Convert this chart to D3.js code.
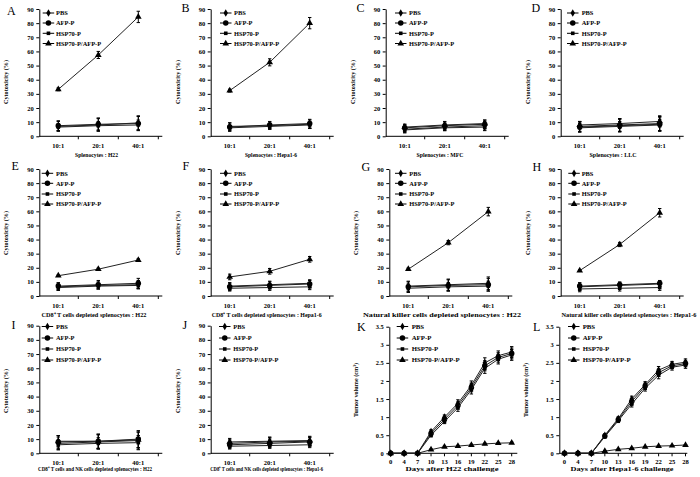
<!DOCTYPE html>
<html><head><meta charset="utf-8">
<script src="https://cdn.jsdelivr.net/npm/d3@7"></script>
<style>
body{margin:0;background:#fff}
svg{display:block}
text{font-family:"Liberation Serif","Times New Roman",serif;fill:#000}
</style>
</head><body>
<svg id="c" width="700" height="477"></svg>
<script>
// ---------------- DATA ----------------
const seriesNames = ["PBS", "AFP-P", "HSP70-P", "HSP70-P/AFP-P"];
const ratioLabels = ["10:1", "20:1", "40:1"];
const cytoTicks = [0, 10, 20, 30, 40, 50, 60, 70, 80, 90];
const dayLabels = ["0", "4", "7", "10", "13", "16", "19", "22", "25", "28"];
const volumeTicks = [0, 0.5, 1, 1.5, 2, 2.5, 3, 3.5];

// cytotoxicity (%) : rows = PBS, AFP-P, HSP70-P, HSP70-P/AFP-P ; cols = 10:1, 20:1, 40:1
const meanA = [[7, 8, 9.5], [7.5, 8.5, 9], [6.5, 7.5, 8], [33.2, 57.5, 84.4]];
const errA  = [[3.5, 4.5, 5], [3.5, 4.5, 5], [2.5, 3, 3.5], [1, 2.5, 4]];
const meanB = [[7, 7.5, 8.5], [6.5, 8, 9], [6, 7, 8], [32.3, 52.3, 80]];
const errB  = [[2.5, 2.5, 3], [3, 2.5, 3], [2, 2, 2.5], [1, 2.5, 4]];
const meanC = [[5, 6.5, 7.5], [6, 7.5, 8.5], [4.5, 6, 6.5], [6.5, 8, 9]];
const errC  = [[2.5, 2.5, 3], [2.5, 2.5, 3], [2, 2, 2.5], [2, 2.5, 2.5]];
const meanD = [[7, 8, 9], [6.5, 7.5, 8.5], [6, 7, 8], [8, 9, 10.5]];
const errD  = [[3.5, 4.5, 5], [3.5, 4.5, 5], [3, 3.5, 4], [2.5, 3.5, 4]];
const meanE = [[6.5, 7.5, 8], [7, 8, 9], [6, 7, 7.5], [14.4, 19, 25.5]];
const errE  = [[2.5, 2.5, 3], [2.5, 3, 3.5], [2, 2, 2], [0.5, 0.7, 0.8]];
const meanF = [[7, 8, 9], [6.5, 7.5, 8.5], [5.5, 6, 6.5], [13.5, 17.5, 26]];
const errF  = [[2.5, 2.5, 2.5], [2.5, 2.5, 2.5], [2, 2, 2], [2, 2, 2]];
const meanG = [[7, 8, 9], [6.5, 7.5, 8], [5.5, 6.5, 7], [19, 37.8, 59.8]];
const errG  = [[3.5, 4, 4.5], [3.5, 4, 4.5], [3, 3, 3.5], [0.8, 1.5, 3]];
const meanH = [[6.5, 7.5, 8.5], [7, 8, 9], [5, 5.5, 6], [18, 36.5, 59]];
const errH  = [[2.5, 2, 2], [2.5, 2, 2], [2, 2, 2], [0.5, 1.5, 3]];
const meanI = [[7, 8, 9], [8, 8.5, 10], [6, 7, 7.5], [8.5, 8.5, 9.5]];
const errI  = [[4.5, 5, 6], [4.5, 5, 6], [3.5, 4, 5], [4, 5, 5.5]];
const meanJ = [[7, 8, 8.5], [6, 7, 8], [5, 5.5, 6], [8, 8.5, 9]];
const errJ  = [[2.5, 3, 3], [2.5, 3, 3], [2, 2, 2], [2.5, 3, 3]];

// tumor volume (cm3) : rows = PBS, AFP-P, HSP70-P, HSP70-P/AFP-P ; cols = days
const meanK = [[0, 0, 0, 0.6, 1.0, 1.38, 1.88, 2.5, 2.7, 2.8],
               [0, 0, 0, 0.55, 0.94, 1.32, 1.82, 2.42, 2.65, 2.76],
               [0, 0, 0, 0.5, 0.88, 1.26, 1.76, 2.35, 2.6, 2.72],
               [0, 0, 0, 0.1, 0.18, 0.2, 0.23, 0.26, 0.28, 0.29]];
const errK  = [[0, 0, 0, 0.05, 0.06, 0.1, 0.12, 0.14, 0.13, 0.15],
               [0, 0, 0, 0.05, 0.06, 0.1, 0.12, 0.14, 0.13, 0.15],
               [0, 0, 0, 0.05, 0.06, 0.1, 0.12, 0.14, 0.13, 0.15],
               [0, 0, 0, 0.02, 0.02, 0.02, 0.02, 0.02, 0.02, 0.02]];
const meanL = [[0, 0, 0, 0.5, 0.96, 1.5, 1.9, 2.3, 2.46, 2.52],
               [0, 0, 0, 0.48, 0.93, 1.43, 1.86, 2.23, 2.42, 2.48],
               [0, 0, 0, 0.46, 0.9, 1.36, 1.8, 2.16, 2.38, 2.44],
               [0, 0, 0, 0.06, 0.11, 0.14, 0.18, 0.2, 0.21, 0.23]];
const errL  = [[0, 0, 0, 0.04, 0.05, 0.08, 0.08, 0.1, 0.08, 0.09],
               [0, 0, 0, 0.04, 0.05, 0.08, 0.08, 0.1, 0.08, 0.09],
               [0, 0, 0, 0.04, 0.05, 0.08, 0.08, 0.1, 0.08, 0.09],
               [0, 0, 0, 0.01, 0.01, 0.01, 0.01, 0.01, 0.01, 0.01]];

const xTitles = {
  A: "Splenocytes : H22", B: "Splenocytes : Hepa1-6", C: "Splenocytes : MFC", D: "Splenocytes : LLC",
  E: "CD8\u207A T cells depleted splenocytes : H22", F: "CD8\u207A T cells depleted splenocytes : Hepa1-6",
  G: "Natural killer cells depleted splenocytes : H22", H: "Natural killer cells depleted splenocytes : Hepa1-6",
  I: "CD8\u207A T cells and NK cells depleted splenocytes : H22", J: "CD8\u207A T cells and NK cells depleted splenocytes : Hepa1-6",
  K: "Days after H22 challenge", L: "Days after Hepa1-6 challenge"
};

// ---------------- LAYOUT ----------------
const rowLeg1 = [13, 23, 33.3, 43.5];
const rowLeg2 = [173.3, 183.3, 194, 204];
const rowLeg3 = [326.5, 338, 349, 360];
const panels = [
  {id:"A", mean:meanA, err:errA, ax:39.3, top:9, bottom:136.3, lx:42.7, tx:56, rows:rowLeg1, tW:43, tX:96.5, lt:[7,15], ytY:82},
  {id:"B", mean:meanB, err:errB, ax:210.7, top:9, bottom:136.3, lx:220, tx:234, rows:rowLeg1, tW:52, tX:271, lt:[181.5,12], ytY:82},
  {id:"C", mean:meanC, err:errC, ax:385.7, top:9, bottom:136.3, lx:395, tx:409, rows:rowLeg1, tW:47, tX:440, lt:[356.5,12], ytY:82},
  {id:"D", mean:meanD, err:errD, ax:560.7, top:9, bottom:136.3, lx:567, tx:581.7, rows:rowLeg1, tW:47, tX:613, lt:[531.5,12], ytY:82},
  {id:"E", mean:meanE, err:errE, ax:39.3, top:169, bottom:296, lx:41.7, tx:56, rows:rowLeg2, tW:105, tX:94, lt:[11.5,170], ytY:233},
  {id:"F", mean:meanF, err:errF, ax:210.7, top:169, bottom:296, lx:220, tx:234, rows:rowLeg2, tW:110, tX:266.7, lt:[182.5,170], ytY:233},
  {id:"G", mean:meanG, err:errG, ax:389.3, top:169, bottom:296, lx:395, tx:409.3, rows:rowLeg2, tW:158, tX:442, lt:[361.5,170.5], ytY:233},
  {id:"H", mean:meanH, err:errH, ax:560.7, top:169, bottom:296, lx:568.3, tx:581.7, rows:rowLeg2, tW:135, tX:629, lt:[532.5,170.5], ytY:233},
  {id:"I", mean:meanI, err:errI, ax:39.3, top:325.7, bottom:453.3, lx:41.7, tx:56, rows:rowLeg3, tW:114, tX:95, lt:[11.5,329], ytY:391},
  {id:"J", mean:meanJ, err:errJ, ax:210.7, top:325.7, bottom:453.3, lx:219, tx:233.3, rows:rowLeg3, tW:113, tX:266.7, lt:[182.5,329], ytY:391},
  {id:"K", mean:meanK, err:errK, ax:389.3, top:326.7, bottom:453.3, lx:396.7, tx:411.7, rows:rowLeg3, tW:93, tX:452, lt:[357,330.5], ytY:390, tumor:true, p0:390.7},
  {id:"L", mean:meanL, err:errL, ax:559.3, top:326.7, bottom:453.3, lx:568, tx:582.7, rows:rowLeg3, tW:103, tX:622, lt:[533,330.5], ytY:390, tumor:true, p0:564.5}
];

const symbols = [
  d3.symbol().type(d3.symbolDiamond).size(17),
  d3.symbol().type(d3.symbolCircle).size(24),
  d3.symbol().type(d3.symbolSquare).size(13),
  d3.symbol().type(d3.symbolTriangle).size(19)
];

const svg = d3.select("#c");

panels.forEach(p => {
  const g = svg.append("g").attr("class", "panel-" + p.id);
  const tumor = !!p.tumor;
  const y = d3.scaleLinear().domain(tumor ? [0, 3.5] : [0, 90]).range([p.bottom, p.top]);
  let xPos, cats;
  if (tumor) {
    cats = dayLabels;
    const xs = d3.scalePoint().domain(dayLabels).range([p.p0, p.p0 + 121]);
    xPos = d => xs(d);
  } else {
    cats = ratioLabels;
    const xs = d3.scaleBand().domain(ratioLabels).range([p.ax - 1, p.ax + 119]);
    xPos = d => xs(d) + xs.bandwidth() / 2;
  }

  // Y axis
  const yAxis = d3.axisLeft(y)
    .tickValues(tumor ? volumeTicks : cytoTicks)
    .tickFormat(d => String(d))
    .tickSize(3).tickPadding(2.5).tickSizeOuter(0);
  const ya = g.append("g").attr("transform", `translate(${p.ax},0)`).call(yAxis);
  ya.select(".domain").attr("stroke", "#000").attr("stroke-width", 1);
  ya.selectAll(".tick line").attr("stroke", "#000");
  ya.selectAll(".tick text").style("font-size", tumor ? "6.4px" : "6.5px").style("font-weight", "bold")
    .style("font-family", '"Liberation Serif","Times New Roman",serif');

  // X axis line + ticks
  const xEnd = tumor ? p.ax + 128 : p.ax + 123;
  g.append("line").attr("x1", p.ax).attr("x2", xEnd).attr("y1", p.bottom).attr("y2", p.bottom)
    .attr("stroke", "#000").attr("stroke-width", 1);
  let tickXs;
  if (tumor) {
    tickXs = dayLabels.map(d => xPos(d));
  } else {
    const step = 40;
    tickXs = [p.ax - 1 + step, p.ax - 1 + 2 * step, p.ax - 1 + 3 * step];
  }
  g.selectAll(".xt").data(tickXs).join("line").attr("class", "xt")
    .attr("x1", d => d).attr("x2", d => d).attr("y1", p.bottom).attr("y2", p.bottom + 3)
    .attr("stroke", "#000").attr("stroke-width", 1);
  g.selectAll(".xl").data(cats).join("text").attr("class", "xl")
    .attr("x", d => xPos(d)).attr("y", p.bottom + (tumor ? 10.5 : 12))
    .attr("text-anchor", "middle").style("font-size", tumor ? "6.6px" : "6.5px").style("font-weight", "bold")
    .text(d => d);

  // Axis titles
  g.append("text").attr("x", p.tX).attr("y", p.bottom + (p.bottom > 400 ? 18 : 20.5))
    .attr("text-anchor", "middle").style("font-size", "6.3px").style("font-weight", "bold")
    .attr("textLength", p.tW).attr("lengthAdjust", "spacingAndGlyphs")
    .text(xTitles[p.id]);
  const yt = g.append("text")
    .attr("transform", `translate(${p.ax - 31},${p.ytY}) rotate(-90)`)
    .attr("text-anchor", "middle").style("font-size", "6.2px").style("font-weight", "bold");
  if (tumor) {
    yt.text("Tumor volume (cm\u00B3)");
  } else {
    yt.text("Cytotoxicity (%)");
  }

  // Panel letter
  g.append("text").attr("x", p.lt[0]).attr("y", p.lt[1])
    .style("font-size", "12px").text(p.id);

  // Series
  p.mean.forEach((vals, si) => {
    const pts = vals.map((v, i) => ({x: xPos(cats[i]), v: v, e: p.err[si][i]}));
    const eg = g.append("g");
    pts.forEach(d => {
      if (d.e <= 0) return;
      eg.append("line").attr("x1", d.x).attr("x2", d.x).attr("y1", y(d.v - d.e)).attr("y2", y(d.v + d.e))
        .attr("stroke", "#000").attr("stroke-width", 1);
      [d.v - d.e, d.v + d.e].forEach(c => {
        eg.append("line").attr("x1", d.x - 1.7).attr("x2", d.x + 1.7).attr("y1", y(c)).attr("y2", y(c))
          .attr("stroke", "#000").attr("stroke-width", 1);
      });
    });
    g.append("path").datum(pts)
      .attr("d", d3.line().x(d => d.x).y(d => y(d.v)))
      .attr("fill", "none").attr("stroke", "#222").attr("stroke-width", 1);
    g.selectAll(".m" + si).data(pts).join("path").attr("class", "m" + si)
      .attr("transform", d => `translate(${d.x},${y(d.v)})`)
      .attr("d", symbols[si]()).attr("fill", "#000");
  });

  // Legend
  seriesNames.forEach((name, si) => {
    const ry = p.rows[si];
    const len = 11.5;
    g.append("line").attr("x1", p.lx).attr("x2", p.lx + len).attr("y1", ry).attr("y2", ry)
      .attr("stroke", "#000").attr("stroke-width", 1);
    g.append("path").attr("transform", `translate(${p.lx + len / 2},${ry})`)
      .attr("d", symbols[si]()).attr("fill", "#000");
    g.append("text").attr("x", p.tx).attr("y", ry).attr("dy", "0.35em")
      .style("font-size", tumor ? "6.8px" : "6.4px").style("font-weight", "bold").text(name);
  });
});
</script>
</body></html>
